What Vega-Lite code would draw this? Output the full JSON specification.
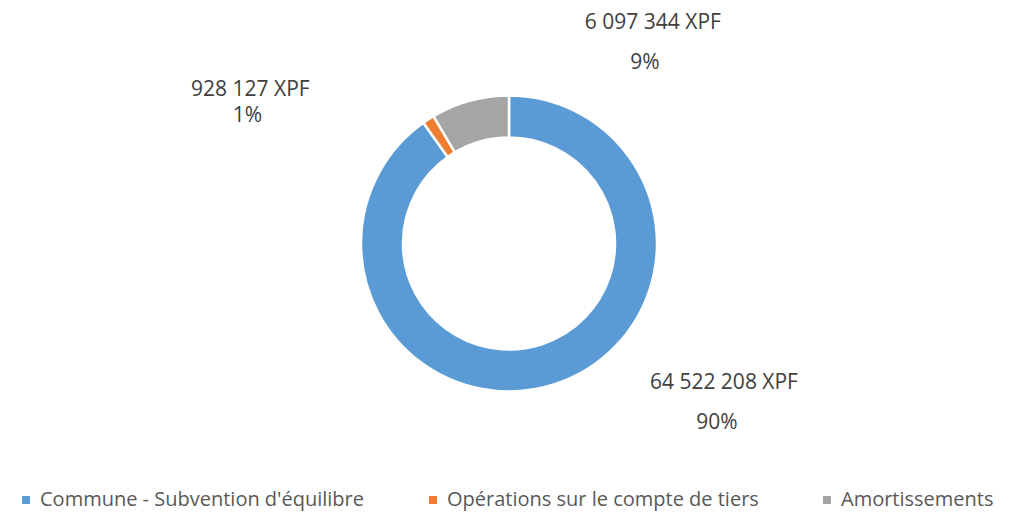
{
  "$schema": "https://vega.github.io/schema/vega-lite/v6.json",
  "width": 1014,
  "height": 512,
  "autosize": {"type": "fit", "contains": "padding"},
  "padding": {"left": 16, "right": 12, "top": 0, "bottom": 2},
  "background": "white",
  "config": {"view": {"stroke": null}, "font": "Open Sans"},
  "data": {
    "values": [
      {"cat": "Commune - Subvention d'équilibre", "value": 64522208, "amount": "64 522 208 XPF", "pct": "90%", "order": 1},
      {"cat": "Opérations sur le compte de tiers", "value": 928127, "amount": "928 127 XPF", "pct": "1%", "order": 2},
      {"cat": "Amortissements", "value": 6097344, "amount": "6 097 344 XPF", "pct": "9%", "order": 3}
    ]
  },
  "encoding": {
    "theta": {"field": "value", "type": "quantitative", "stack": true},
    "order": {"field": "order", "type": "quantitative"}
  },
  "layer": [
    {
      "mark": {"type": "arc", "outerRadius": 148, "innerRadius": 106, "stroke": "white", "strokeWidth": 2.5},
      "encoding": {
        "color": {
          "field": "cat",
          "type": "nominal",
          "sort": ["Commune - Subvention d'équilibre", "Opérations sur le compte de tiers", "Amortissements"],
          "scale": {
            "domain": ["Commune - Subvention d'équilibre", "Opérations sur le compte de tiers", "Amortissements"],
            "range": ["#5B9BD5", "#ED7D31", "#A5A5A5"]
          },
          "legend": {
            "title": null,
            "orient": "bottom",
            "direction": "horizontal",
            "symbolType": "square",
            "symbolSize": 64,
            "symbolStrokeWidth": 0,
            "labelFont": "Open Sans",
            "labelFontSize": 20,
            "labelLimit": 0,
            "labelOffset": 4,
            "labelColor": "#595959",
            "columnPadding": 58,
            "offset": 3
          }
        }
      }
    },
    {
      "mark": {"type": "text", "radius": 148, "dx": 170, "dy": -2, "fontSize": 21, "color": "#404040", "baseline": "middle", "align": "center"},
      "encoding": {"text": {"condition": {"test": "datum.order == 1", "field": "amount"}, "value": ""}}
    },
    {
      "mark": {"type": "text", "radius": 148, "dx": 163, "dy": 38, "fontSize": 21, "color": "#404040", "baseline": "middle", "align": "center"},
      "encoding": {"text": {"condition": {"test": "datum.order == 1", "field": "pct"}, "value": ""}}
    },
    {
      "mark": {"type": "text", "radius": 148, "dx": -178, "dy": -29, "fontSize": 21, "color": "#404040", "baseline": "middle", "align": "center"},
      "encoding": {"text": {"condition": {"test": "datum.order == 2", "field": "amount"}, "value": ""}}
    },
    {
      "mark": {"type": "text", "radius": 148, "dx": -181, "dy": -3, "fontSize": 21, "color": "#404040", "baseline": "middle", "align": "center"},
      "encoding": {"text": {"condition": {"test": "datum.order == 2", "field": "pct"}, "value": ""}}
    },
    {
      "mark": {"type": "text", "radius": 148, "dx": 183, "dy": -78, "fontSize": 21, "color": "#404040", "baseline": "middle", "align": "center"},
      "encoding": {"text": {"condition": {"test": "datum.order == 3", "field": "amount"}, "value": ""}}
    },
    {
      "mark": {"type": "text", "radius": 148, "dx": 175, "dy": -38, "fontSize": 21, "color": "#404040", "baseline": "middle", "align": "center"},
      "encoding": {"text": {"condition": {"test": "datum.order == 3", "field": "pct"}, "value": ""}}
    }
  ]
}
